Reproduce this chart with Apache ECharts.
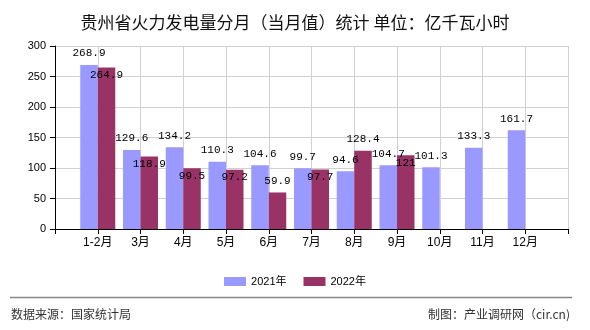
<!DOCTYPE html>
<html>
<head>
<meta charset="utf-8">
<script src="https://cdn.jsdelivr.net/npm/echarts@6/dist/echarts.min.js"></script>
<style>html,body{margin:0;padding:0;background:#fff;}#c{width:590px;height:330px;}</style>
</head>
<body>
<div id="c"></div>
<script>
const categories = ['1-2月','3月','4月','5月','6月','7月','8月','9月','10月','11月','12月'];
const values2021 = [268.9,129.6,134.2,110.3,104.6,99.7,94.6,104.7,101.3,133.3,161.7];
const values2022 = [264.9,118.9,99.5,97.2,59.9,97.7,128.4,121,null,null,null];
const yTicks = [0,50,100,150,200,250,300];

const chart = echarts.init(document.getElementById('c'), null, {renderer:'canvas'});
const axisData = [''].concat(categories, ['']);
const pad = arr => [null].concat(arr, [null]);
const aboveIdx = new Set([5, 7]); // 2022 labels drawn above bar (6月, 8月) after padding
const labelFont = {fontFamily:'Liberation Mono, monospace', fontSize:11, color:'#000'};

const d2022 = pad(values2022).map((v, i) => {
  if (v == null) return null;
  return aboveIdx.has(i)
    ? {value:v, label:{position:'top', distance:6}}
    : {value:v, label:{position:'insideTop', distance:2}};
});

chart.setOption({
  animation:false,
  title:{text:'贵州省火力发电量分月（当月值）统计 单位：亿千瓦小时', left:'center', top:9,
    textStyle:{fontFamily:'Noto Sans CJK SC', fontSize:17, fontWeight:'normal', color:'#111'}},
  legend:{left:'center', top:271, itemWidth:22, itemHeight:9, itemGap:17,
    icon:'rect',
    textStyle:{fontFamily:'Liberation Sans, Noto Sans CJK SC', fontSize:11, color:'#000'},
    data:['2021年','2022年']},
  grid:{left:55, right:22, top:46, bottom:101, containLabel:false},
  xAxis:{type:'category', data:axisData, boundaryGap:false,
    axisLine:{show:true, lineStyle:{color:'#000', width:1}},
    axisTick:{show:true, length:5, lineStyle:{color:'#000'}, interval:0},
    axisLabel:{interval:0, margin:8, fontFamily:'Liberation Sans, Noto Sans CJK SC', fontSize:12, color:'#000'},
    splitLine:{show:true, interval:0, lineStyle:{color:'#d0d0d0', width:1}}},
  yAxis:{type:'value', min:yTicks[0], max:yTicks[yTicks.length-1], interval:50,
    axisLine:{show:true, lineStyle:{color:'#000', width:1}},
    axisTick:{show:true, length:5, lineStyle:{color:'#000'}},
    axisLabel:{margin:9, fontFamily:'Liberation Sans, sans-serif', fontSize:11, color:'#000'},
    splitLine:{show:true, lineStyle:{color:'#d0d0d0', width:1}}},
  series:[
    {name:'2021年', type:'bar', data:pad(values2021), barWidth:17.5, barGap:'0%',
      itemStyle:{color:'#9999FF'},
      label:{show:true, position:'top', distance:6, ...labelFont}},
    {name:'2022年', type:'bar', data:d2022, barWidth:17.5, barGap:'0%',
      itemStyle:{color:'#993366'},
      label:{show:true, ...labelFont}}
  ],
  graphic:[
    {type:'line', shape:{x1:10, y1:297.5, x2:572, y2:297.5}, style:{stroke:'#888', lineWidth:1.5}},
    {type:'text', left:11, top:308, style:{text:'数据来源：国家统计局', font:'12px "Noto Sans CJK SC"', fill:'#333'}},
    {type:'text', right:20, top:308, style:{text:'制图：产业调研网（cir.cn)', font:'12px "Noto Sans CJK SC"', fill:'#333'}}
  ]
});
</script>
</body>
</html>
